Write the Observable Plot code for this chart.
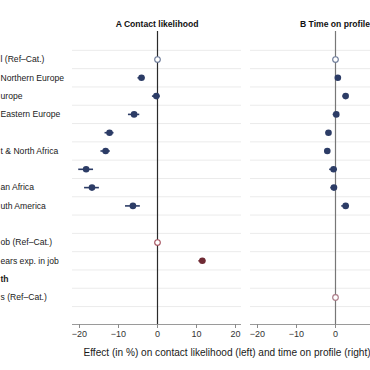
<!DOCTYPE html>
<html><head><meta charset="utf-8">
<script src="https://cdn.jsdelivr.net/npm/d3@7"></script>
<script src="https://cdn.jsdelivr.net/npm/@observablehq/plot@0.6"></script>
<style>
html,body{margin:0;padding:0;overflow:hidden;background:#fff;width:370px;height:370px}
#chart{width:370px;height:370px;overflow:hidden;position:relative}
#chart svg{position:absolute;left:0;top:0;max-width:none}
</style></head><body><div id="chart"></div>
<script>
// Row labels (visible parts of the cropped figure), top to bottom
const rowLabels = ["l (Ref\u2013Cat.)", "Northern Europe", "urope", "Eastern Europe", "", "t & North Africa", "", "an Africa", "uth America", "", "ob (Ref\u2013Cat.)", "ears exp. in job", "th", "s (Ref\u2013Cat.)"];
const boldRows = [12];
const refRows = [0, 10, 13];
const rowGroup = ["origin","origin","origin","origin","origin","origin","origin","origin","origin","","exp","exp","","other"];
const panelIds = ["A", "B"];
const panelTitles = ["A Contact likelihood", "B Time on profile"];
// Panel A: effect on contact likelihood (estimate, CI half width)
const contactEst = [0, -4.1, -0.3, -6.0, -12.3, -13.3, -18.3, -16.8, -6.3, null, 0, 11.5, null, null];
const contactCI  = [0, 0.9, 1.0, 1.45, 1.15, 1.2, 1.9, 1.9, 1.9, null, 0, 0.9, null, null];
// Panel B: effect on time on profile
const profileEst = [0, 0.6, 2.6, 0.2, -1.8, -2.1, -0.5, -0.4, 2.6, null, null, null, null, 0];
const profileCI  = [0, 0.6, 0.7, 0.8, 0.6, 0.6, 1.0, 0.8, 1.0, null, null, null, null, 0];
const xTicksA = [-20, -10, 0, 10, 20];
const xTicksB = [-20, -10, 0];
const axisTitle = "Effect (in %) on contact likelihood (left) and time on profile (right)";

const colors = {
  origin: {fill: "#2c3c66", ref: "#6a7896"},
  exp: {fill: "#6f2a34", ref: "#a4505c"},
  other: {fill: "#a87884", ref: "#a87884"}
};

const rows = rowLabels.map((label, i) => ({row: i + 1, label, panel: "A", bold: boldRows.includes(i)}));
const est = [];
[[contactEst, contactCI, "A"], [profileEst, profileCI, "B"]].forEach(([e, c, p]) => {
  e.forEach((v, i) => {
    if (v == null) return;
    const ref = refRows.includes(i);
    const g = colors[rowGroup[i]];
    est.push({panel: p, row: i + 1, est: v, lo: v - c[i], hi: v + c[i], ref, color: ref ? g.ref : g.fill});
  });
});
const titles = panelIds.map((p, i) => ({panel: p, title: panelTitles[i]}));
const yDomain = [-0.53, 15.48];
const gridRows = d3.range(0.5, rowLabels.length + 1, 1);
const font = "'Liberation Sans', Arial, Helvetica, sans-serif";
const axisStyle = {tickSize: 4, tickPadding: 2, stroke: "#8a8a8a", fill: "#333", fontSize: 9, label: null};

const plot = Plot.plot({
  width: 429, height: 370,
  marginLeft: 72, marginRight: 10, marginTop: 31, marginBottom: 46,
  style: {fontFamily: font, background: "#fff", overflow: "visible"},
  fx: {domain: panelIds, paddingInner: 9 / 178, paddingOuter: 0, axis: null, label: null},
  x: {domain: [-85 / 3.9, 84 / 3.9], axis: null},
  y: {domain: yDomain, reverse: true, axis: null},
  color: {type: "identity"},
  marks: [
    Plot.ruleY(gridRows, {stroke: "#ebebeb", strokeWidth: 1}),
    Plot.ruleY([yDomain[1]], {stroke: "#9a9a9a", strokeWidth: 1}),
    Plot.axisX(xTicksA, {...axisStyle, fx: () => "A"}),
    Plot.axisX(xTicksB, {...axisStyle, fx: () => "B"}),
    Plot.ruleX([0], {fx: () => "A", stroke: "#2a2a2a", strokeWidth: 1.2}),
    Plot.ruleX([0], {fx: () => "B", stroke: "#777", strokeWidth: 1.2}),
    Plot.ruleY(est, {fx: "panel", y: "row", x1: "lo", x2: "hi", stroke: "color", strokeWidth: 1.6}),
    Plot.dot(est.filter(d => !d.ref), {fx: "panel", x: "est", y: "row", r: 3.3, fill: "color", stroke: "none"}),
    Plot.dot(est.filter(d => d.ref), {fx: "panel", x: "est", y: "row", r: 2.8, fill: "#fff", stroke: "color", strokeWidth: 1.1}),
    Plot.text(rows.filter(d => !d.bold), {fx: "panel", y: "row", text: "label", frameAnchor: "left", dx: -72, textAnchor: "start", lineAnchor: "middle", fontSize: 8.6, fill: "#1a1a1a"}),
    Plot.text(rows.filter(d => d.bold), {fx: "panel", y: "row", text: "label", frameAnchor: "left", dx: -72, textAnchor: "start", lineAnchor: "middle", fontSize: 8.6, fontWeight: "bold", fill: "#1a1a1a"}),
    Plot.text(titles, {fx: "panel", text: "title", frameAnchor: "top", dy: -7, lineAnchor: "middle", fontSize: 8.6, fontWeight: "bold", fill: "#111"}),
    Plot.text([axisTitle], {fx: () => "A", text: d => d, frameAnchor: "bottom-left", dx: 11, dy: 28, textAnchor: "start", lineAnchor: "middle", fontSize: 10.1, fill: "#1a1a1a"})
  ]
});
document.getElementById("chart").appendChild(plot);
</script>
</body></html>
